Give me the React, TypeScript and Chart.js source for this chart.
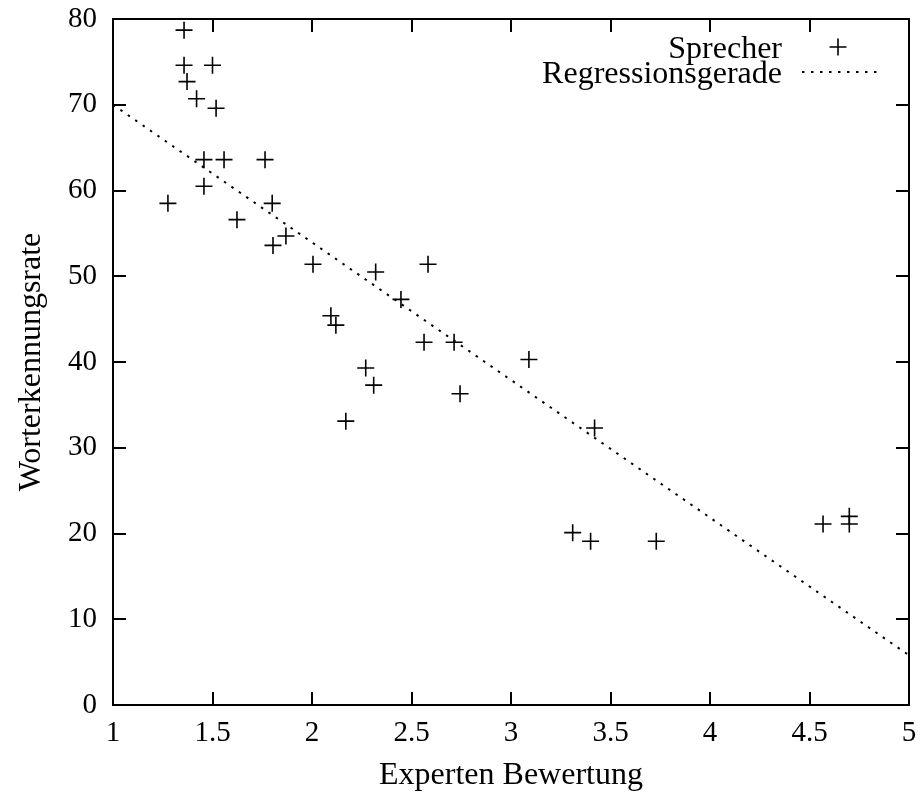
import React, { useEffect, useRef } from "react";
import { Chart, registerables } from "chart.js";

Chart.register(...registerables);

// Speaker points (expert rating vs. word recognition rate)
const speakerX = [
  1.357, 1.357, 1.5, 1.372, 1.42, 1.518, 1.457, 1.558, 1.764, 1.457, 1.276, 1.8,
  1.623, 1.869, 1.804, 2.005, 2.32, 2.583, 2.447, 2.095, 2.12, 2.563, 2.714, 3.09,
  2.27, 2.31, 2.744, 2.17, 3.42, 3.31, 3.4, 3.73, 4.568, 4.7, 4.7,
];
const speakerY = [
  78.7, 74.6, 74.6, 72.7, 70.7, 69.6, 63.6, 63.6, 63.6, 60.5, 58.5, 58.5,
  56.6, 54.7, 53.6, 51.4, 50.5, 51.4, 47.3, 45.4, 44.3, 42.3, 42.3, 40.3,
  39.3, 37.3, 36.3, 33.1, 32.3, 20.1, 19.1, 19.1, 21.1, 22.0, 21.1,
];
// Regression line end points
const regressionX = [1, 5];
const regressionY = [70, 5.8];

const xTicks = [1, 1.5, 2, 2.5, 3, 3.5, 4, 4.5, 5];
const yTicks = [0, 10, 20, 30, 40, 50, 60, 70, 80];
const seriesLabels = ["Sprecher", "Regressionsgerade"];
const xTitle = "Experten Bewertung";
const yTitle = "Worterkennungsrate";

const FONT = '"Liberation Serif", "Times New Roman", serif';

const framePlugin = {
  id: "gnuplotFrame",
  afterDraw(chart: any) {
    const { ctx, chartArea } = chart;
    const { left, right, top, bottom } = chartArea;
    const xs = chart.scales.x;
    const ys = chart.scales.y;
    const tl = 13;
    ctx.save();
    ctx.strokeStyle = "#000";
    ctx.lineWidth = 2;
    ctx.setLineDash([]);
    ctx.beginPath();
    xTicks.forEach((v) => {
      const px = Math.round(xs.getPixelForValue(v));
      ctx.moveTo(px, bottom);
      ctx.lineTo(px, bottom - tl);
      ctx.moveTo(px, top);
      ctx.lineTo(px, top + tl);
    });
    yTicks.forEach((v) => {
      const py = Math.round(ys.getPixelForValue(v));
      ctx.moveTo(left, py);
      ctx.lineTo(left + tl, py);
      ctx.moveTo(right, py);
      ctx.lineTo(right - tl, py);
    });
    ctx.stroke();
    ctx.strokeRect(left, top, right - left, bottom - top);

    // legend (gnuplot style: right-aligned text, sample at right)
    const textRight = right - 127;
    const sampleCx = right - 71;
    ctx.fillStyle = "#000";
    ctx.font = `32px ${FONT}`;
    ctx.textAlign = "right";
    ctx.textBaseline = "alphabetic";
    const ds = chart.data.datasets;
    ctx.fillText(ds[0].label, textRight, top + 39);
    ctx.fillText(ds[1].label, textRight, top + 64);
    ctx.lineWidth = 1.6;
    ctx.beginPath();
    const cy = top + 28;
    ctx.moveTo(sampleCx - 8.5, cy);
    ctx.lineTo(sampleCx + 8.5, cy);
    ctx.moveTo(sampleCx, cy - 8.5);
    ctx.lineTo(sampleCx, cy + 8.5);
    ctx.stroke();
    ctx.lineWidth = 2;
    ctx.setLineDash([2.5, 6.5]);
    ctx.beginPath();
    ctx.moveTo(sampleCx - 36, top + 53);
    ctx.lineTo(sampleCx + 40, top + 53);
    ctx.stroke();
    ctx.restore();
  },
};

export default function App() {
  const ref = useRef<HTMLCanvasElement | null>(null);
  useEffect(() => {
    document.body.style.margin = "0";
    if (!ref.current) return;
    const chart = new Chart(ref.current, {
      type: "scatter",
      data: {
        datasets: [
          {
            label: seriesLabels[0],
            data: speakerX.map((x, i) => ({ x, y: speakerY[i] })),
            pointStyle: "cross",
            pointRadius: 8.5,
            pointHoverRadius: 8.5,
            borderColor: "#000",
            backgroundColor: "#000",
            borderWidth: 1.6,
            showLine: false,
          },
          {
            label: seriesLabels[1],
            type: "line",
            data: regressionX.map((x, i) => ({ x, y: regressionY[i] })),
            borderColor: "#000",
            borderWidth: 2,
            borderDash: [2.5, 6.5],
            pointRadius: 0,
            fill: false,
          },
        ],
      },
      options: {
        animation: false,
        responsive: false,
        devicePixelRatio: 1,
        layout: { padding: { left: 0, right: 13, top: 19, bottom: 0 } },
        plugins: {
          legend: { display: false },
          tooltip: { enabled: false },
        },
        scales: {
          x: {
            type: "linear",
            min: 1,
            max: 5,
            afterBuildTicks: (s: any) => {
              s.ticks = xTicks.map((v) => ({ value: v }));
            },
            afterFit: (s: any) => {
              s.height = 87;
              s.paddingLeft = 0;
              s.paddingRight = 0;
            },
            grid: { display: false, drawTicks: false },
            border: { display: false },
            ticks: {
              color: "#000",
              font: { family: FONT, size: 29 },
              padding: 11,
              maxRotation: 0,
              autoSkip: false,
              callback: (v: any) => String(v),
            },
            title: {
              display: true,
              text: xTitle,
              color: "#000",
              font: { family: FONT, size: 32 },
              padding: { top: 0, bottom: -3 },
            },
          },
          y: {
            type: "linear",
            min: 0,
            max: 80,
            afterBuildTicks: (s: any) => {
              s.ticks = yTicks.map((v) => ({ value: v }));
            },
            afterFit: (s: any) => {
              s.width = 113;
              s.paddingTop = 0;
              s.paddingBottom = 0;
            },
            grid: { display: false, drawTicks: false },
            border: { display: false },
            ticks: {
              color: "#000",
              font: { family: FONT, size: 29 },
              padding: 16,
              autoSkip: false,
              callback: (v: any) => String(v),
            },
            title: {
              display: true,
              text: yTitle,
              color: "#000",
              font: { family: FONT, size: 32 },
              padding: { top: 12, bottom: 0 },
            },
          },
        },
      },
      plugins: [framePlugin],
    } as any);
    return () => chart.destroy();
  }, []);
  return (
    <canvas
      ref={ref}
      width={922}
      height={792}
      style={{ display: "block", width: 922, height: 792, background: "#fff" }}
    />
  );
}
